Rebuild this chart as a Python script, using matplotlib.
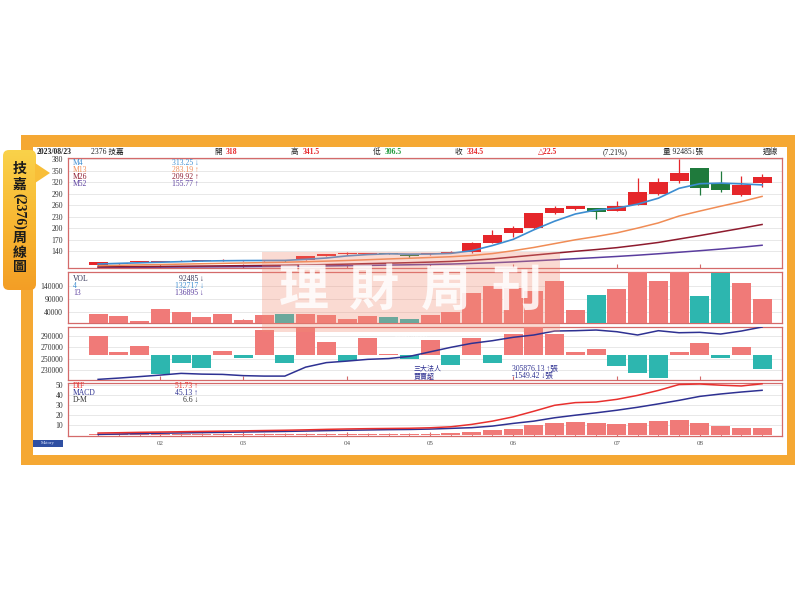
import matplotlib
matplotlib.use('Agg')
import matplotlib.pyplot as plt
import numpy as np
from matplotlib.patches import Rectangle, FancyBboxPatch, Polygon
from matplotlib.colors import LinearSegmentedColormap

# ---------------- data ----------------
opens = [105, 108, 112.5, 113, 114, 115.5, 116, 115.5, 115.5, 116.5, 117, 128.5, 133.5, 133.5, 134, 130, 132,
         135, 137, 162, 187, 200, 241, 251, 252, 246, 261, 289, 323, 356.5, 317, 286, 318]
highs = [113, 109, 114, 115, 117, 118, 119.7, 117, 117, 118, 128, 132.5, 137, 135.6, 134.5, 133, 136,
         140, 165, 195, 207, 240, 258, 259, 253, 271, 330, 330, 380, 357, 349.5, 336, 341.5]
lows = [104, 107, 112, 111, 113.5, 113.5, 114.5, 115, 115, 113.5, 116.5, 128, 130, 133, 133, 126, 131.5,
        134.5, 136, 161, 178, 197, 237, 248, 224, 244, 260, 287, 319, 287, 295, 284, 306.5]
closes = [112, 108.5, 113, 113.5, 115.5, 116, 116.8, 116, 116.5, 116, 127, 132, 134, 134, 133.5, 129, 135.6,
          139, 162, 183, 200, 239, 252, 258, 242, 258, 294, 320, 345, 306, 300.5, 312, 334.5]
m4 = [106.8, 108.5, 110, 111.5, 113, 114.5, 115.3, 115.8, 116, 116.2, 119, 122.5, 128, 131.5, 133.5, 132.5,
      132.8, 134.5, 141.4, 154.9, 171, 196, 218.5, 237.3, 247.8, 252.5, 263, 278.5, 304.3, 316.3, 317.9, 315.9, 313.25]
m13 = [102.5, 103.5, 104.5, 105.5, 106.5, 107.5, 108.5, 109.5, 110.5, 111.5, 112.8, 114.3, 116, 118, 120,
       121.8, 123.8, 125.8, 129, 134, 141.5, 150, 160, 170, 178.5, 188, 200.5, 214, 232, 245, 257.5, 269.5, 283.19]
m26 = [99.5, 99.8, 100.2, 100.6, 101, 101.5, 102, 102.5, 103, 103.5, 104.3, 105.3, 106.5, 107.8, 109, 110.3,
       111.8, 113.5, 116.5, 120, 125, 130, 135, 140, 144.5, 149.5, 156, 163, 172, 181, 190.5, 200, 209.92]
m52 = [97.8, 98, 98.3, 98.6, 98.9, 99.2, 99.5, 99.8, 100.2, 100.6, 101.2, 101.8, 102.5, 103.2, 104, 104.8,
       105.7, 106.7, 108.3, 110, 112.3, 115, 117.8, 120.7, 123.5, 126.5, 129.8, 133.5, 137.5, 141.5, 145.8, 150.5, 155.77]
volume = [32400, 26000, 8000, 51500, 40000, 23300, 32400, 10700, 29800, 33600, 33600, 28600, 15600, 26000,
          21000, 13400, 29800, 42400, 112600, 141600, 134000, 122500, 160700, 48900, 107300, 127900, 192800,
          160700, 197700, 103400, 189000, 150800, 92485]
inst_net = [2050, 360, 1010, -2050, -900, -1440, 430, -360, 2700, -900, 2880, 1370, -610, 1800, 140, -400,
            1620, -1080, 1870, -830, 2270, 3060, 2270, 360, 650, -1190, -1910, -2520, 290, 1260, -290, 900, -1549.42]
inst_line = [213400, 215700, 218300, 221000, 224000, 222700, 222200, 220000, 219200, 219200, 235000, 243000,
             245700, 248800, 250200, 254000, 262000, 270000, 277000, 281700, 287700, 291800, 298800, 299400,
             300600, 297600, 291800, 299400, 295800, 296500, 293500, 298800, 305876.13]
dif = [2.0, 2.3, 2.7, 3.0, 3.3, 3.6, 3.9, 4.2, 4.5, 4.8, 5.2, 5.7, 6.1, 6.4, 6.6, 6.8, 7.3, 8.3, 10.7, 14, 18.3,
       24, 30, 32.7, 33.3, 36, 40, 45, 51, 51.5, 50.3, 49.5, 51.73]
macd = [0.6, 1.0, 1.4, 1.8, 2.1, 2.4, 2.7, 3.0, 3.3, 3.6, 4.0, 4.4, 4.8, 5.1, 5.4, 5.6, 6.0, 6.7, 7.4, 9, 11.7,
        14, 17.4, 20, 22.4, 25, 28, 31.4, 35, 39, 41.4, 43.4, 45.13]
dm = [0.8, 0.8, 0.9, 0.9, 1.0, 1.0, 1.0, 1.1, 1.1, 1.1, 1.2, 1.2, 1.2, 1.2, 1.2, 1.2, 1.3, 1.6, 3.0, 4.7, 6.4,
      10, 12.4, 13.4, 11.7, 11.4, 12.4, 14, 15, 12.4, 9, 7, 6.6]
month_labels = ['02', '03', '04', '05', '06', '07', '08']
month_pos = [3, 7, 12, 16, 20, 25, 29]
price_ticks = [140, 170, 200, 230, 260, 290, 320, 350, 380]
vol_ticks = [40000, 90000, 140000]
inst_ticks = [230000, 250000, 270000, 290000]
macd_ticks = [10, 20, 30, 40, 50]

# ---------------- style ----------------
FONT = ['Liberation Serif', 'DejaVu Sans', 'Noto Sans CJK TC']
CJK = ['Noto Sans CJK TC', 'DejaVu Sans']
plt.rcParams['font.family'] = FONT

RED = '#E5262A'
GREEN = '#1F7A3C'
VRED = '#F07A78'
TEAL = '#2DB6AF'
NAVY = '#2E3192'
BORDER = '#D46A6A'
GRID = '#E4E4E4'
C4, C13, C26, C52 = '#3C8DD1', '#F08C55', '#8E1B2E', '#5A3D9E'

W, H = 800, 600
fig = plt.figure(figsize=(8, 6), dpi=100)
fig.patch.set_facecolor('white')


def add_ax(x0, y0, x1, y1):
    return fig.add_axes([x0 / W, 1 - y1 / H, (x1 - x0) / W, (y1 - y0) / H])


def txt(x, y, s, **kw):
    kw.setdefault('fontsize', 5.5)
    kw.setdefault('va', 'center')
    kw.setdefault('color', '#222222')
    fig.text(x / W, 1 - y / H, s, **kw)


# background frame
bg = fig.add_axes([0, 0, 1, 1])
bg.set_xlim(0, W)
bg.set_ylim(H, 0)
bg.axis('off')
bg.add_patch(Rectangle((21, 135), 774, 330, color='#F5A833', lw=0))
bg.add_patch(Rectangle((33, 147), 754, 308, color='white', lw=0))

n = len(closes)
x = np.arange(n)
XL = (-1.45, 32.96)
up = [c >= o for o, c in zip(opens, closes)]


def style(ax, ylim, ticks, fmt=str):
    ax.set_xlim(*XL)
    ax.set_ylim(*ylim)
    ax.set_yticks(ticks)
    ax.set_yticklabels([fmt(t) for t in ticks])
    ax.tick_params(axis='y', length=0, pad=3.5, labelsize=5.5, labelcolor='#333333')
    ax.set_xticks(month_pos)
    ax.tick_params(axis='x', direction='in', length=3, color=BORDER, labelbottom=False)
    ax.yaxis.grid(True, color=GRID, lw=0.6)
    ax.set_axisbelow(True)
    for s in ax.spines.values():
        s.set_color(BORDER)
        s.set_linewidth(0.9)


# ---------------- price panel ----------------
axp = add_ax(68, 157.5, 782, 267.5)
style(axp, (97.7, 384.7), price_ticks)
ccol = [RED if u else GREEN for u in up]
bot = [min(o, c) for o, c in zip(opens, closes)]
hgt = [max(abs(c - o), 1.2) for o, c in zip(opens, closes)]
axp.vlines(x, lows, highs, colors=ccol, lw=0.9, zorder=3)
axp.bar(x, hgt, bottom=bot, width=0.92, color=ccol, lw=0, zorder=4)
axp.plot(x, m52, color=C52, lw=1.1, zorder=2)
axp.plot(x, m26, color=C26, lw=1.1, zorder=2)
axp.plot(x, m13, color=C13, lw=1.1, zorder=2)
axp.plot(x, m4, color=C4, lw=1.2, zorder=5)

# ---------------- volume panel ----------------
axv = add_ax(68, 271.7, 782, 323.3)
style(axv, (-2000, 194600), vol_ticks)
vcol = [VRED if u else TEAL for u in up]
axv.bar(x, volume, width=0.92, color=vcol, lw=0, zorder=3)

# ---------------- institutional panel ----------------
axi = add_ax(68, 326.7, 782, 380)
axi.set_xlim(*XL)
axi.set_ylim(-2700, 3056)
axi.set_yticks([])
axi.set_xticks(month_pos)
axi.tick_params(axis='x', direction='in', length=3, color=BORDER, labelbottom=False)
for s in axi.spines.values():
    s.set_color(BORDER)
    s.set_linewidth(0.9)
axl = axi.twinx()
axl.set_ylim(212300, 306460)
axl.yaxis.tick_left()
axl.set_yticks(inst_ticks)
axl.set_yticklabels([str(t) for t in inst_ticks])
axl.tick_params(axis='y', length=0, pad=3.5, labelsize=5.5, labelcolor='#333333')
for s in axl.spines.values():
    s.set_visible(False)
for t in inst_ticks:
    axi.plot([XL[0], XL[1]], [t, t], color=GRID, lw=0.6, transform=axl.transData, zorder=0)
icol = [VRED if v >= 0 else TEAL for v in inst_net]
axi.bar(x, inst_net, width=0.92, color=icol, lw=0, zorder=3)
axl.plot(x, inst_line, color=NAVY, lw=1.1, zorder=5)

# ---------------- MACD panel ----------------
axm = add_ax(68, 383.3, 782, 435.7)
style(axm, (-0.7, 52.2), macd_ticks)
axm.bar(x, dm, width=0.92, color=VRED, lw=0, zorder=3)
axm.plot(x, macd, color=NAVY, lw=1.1, zorder=4)
axm.plot(x, dif, color='#E8302E', lw=1.1, zorder=5)
axm.set_xticks(x, minor=True)
axm.tick_params(axis='x', which='minor', direction='in', length=2, color=BORDER)
axm.tick_params(axis='x', which='major', labelbottom=True, labelsize=5, labelcolor='#555555', pad=4)
axm.set_xticklabels(month_labels)

# ---------------- header ----------------
hy = 152
txt(37, hy, '2023/08/23', fontweight='bold')
txt(91, hy, '2376 技嘉')
txt(214, hy, '開', family=CJK)
txt(226, hy, '318', color=RED, fontweight='bold')
txt(291, hy, '高', family=CJK)
txt(303, hy, '341.5', color=RED, fontweight='bold')
txt(373, hy, '低', family=CJK)
txt(385, hy, '306.5', color='#1F9A3C', fontweight='bold')
txt(455, hy, '收', family=CJK)
txt(467, hy, '334.5', color=RED, fontweight='bold')
txt(538, hy, '△22.5', color=RED, fontweight='bold')
txt(603, hy, '(7.21%)')
txt(663, hy, '量 92485↓張')
txt(763, hy, '週線')

# panel legends
for yy, name, val, col in [(163, 'M4', '313.25 ↓', C4), (170, 'M13', '283.19 ↑', C13),
                           (177, 'M26', '209.92 ↑', C26), (184, 'M52', '155.77 ↑', C52)]:
    txt(73, yy, name, color=col)
    txt(199, yy, val, color=col, ha='right')
for yy, name, val, col in [(279, 'VOL', '92485 ↓', '#333355'), (286, '4', '132717 ↓', C4),
                           (293, '13', '136895 ↓', C52)]:
    txt(73, yy, name, color=col)
    txt(204, yy, val, color=col, ha='right')
for yy, name, val, col in [(385.5, 'DIF', '51.73 ↑', '#E8302E'), (393, 'MACD', '45.13 ↑', NAVY),
                           (400.5, 'D-M', '6.6 ↓', '#333333')]:
    txt(73, yy, name, color=col)
    txt(198, yy, val, color=col, ha='right')
txt(414, 368.5, '三大法人', color=NAVY, family=CJK, fontsize=5)
txt(414, 376, '買賣超', color=NAVY, family=CJK, fontsize=5)
txt(512, 368.5, '305876.13 ↑張', color=NAVY)
txt(512, 376, '-1549.42 ↓張', color=NAVY)

# ---------------- overlay: watermark, tab ----------------
ov = fig.add_axes([0, 0, 1, 1])
ov.patch.set_alpha(0)
ov.axis('off')
ov.add_patch(Rectangle((262, 252), 298, 80, color='#F28C74', alpha=0.32, lw=0))
for cx, ch in zip([304, 374, 446, 516], '理財周刊'):
    ov.text(cx, 291, ch, fontsize=36, color='white', alpha=0.85, ha='center', va='center',
            fontweight='bold', family=CJK)
ov.text(411, 336, 'MONEY WEEKLY', fontsize=3, color='white', alpha=0.8, ha='center', va='center')

# Mstory tag
ov.add_patch(Rectangle((33, 439.5), 30, 7, color='#2F4FA2', lw=0))
ov.text(48, 443, 'Mstory', fontsize=3.5, color='#DDE6FF', ha='center', va='center')

# left tab with gradient
tab = FancyBboxPatch((3, 150), 33, 140, boxstyle='round,pad=0,rounding_size=6',
                     transform=ov.transData, facecolor='none', edgecolor='none')
ov.add_patch(tab)
grad = np.linspace(0, 1, 256).reshape(-1, 1)
cmap = LinearSegmentedColormap.from_list('tab', ['#FAD24A', '#F8B833', '#F39E25'])
im = ov.imshow(grad, extent=(3, 36, 290, 150), cmap=cmap, aspect='auto', zorder=2)
im.set_clip_path(tab)
ov.add_patch(Polygon([(35, 163), (50, 173), (35, 183)], closed=True, color='#F8BE38', lw=0, zorder=2))
ov.set_xlim(0, W)
ov.set_ylim(H, 0)
tab_kw = dict(fontsize=10, fontweight='bold', color='#1A1A1A', ha='center', va='center', zorder=5)
ov.text(19.5, 169, '技', family=CJK, **tab_kw)
ov.text(19.5, 184.5, '嘉', family=CJK, **tab_kw)
ov.text(19.5, 211, '(2376)', rotation=-90, family=FONT, **tab_kw)
ov.text(19.5, 238, '周', family=CJK, **tab_kw)
ov.text(19.5, 252.5, '線', family=CJK, **tab_kw)
ov.text(19.5, 267, '圖', family=CJK, **tab_kw)

fig.savefig('out.png', dpi=100, facecolor='white')
